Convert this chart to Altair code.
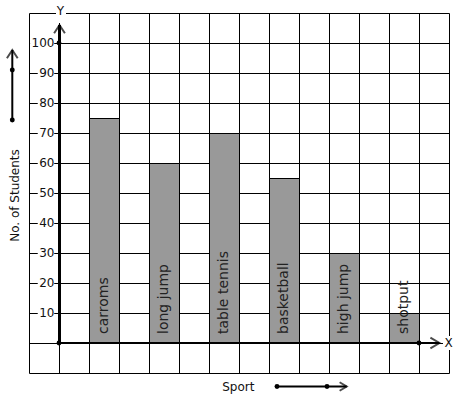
import altair as alt
import pandas as pd

# ---- data ----
sports = ["carroms", "long jump", "table tennis", "basketball", "high jump", "shotput"]
students = [75, 60, 70, 55, 30, 10]
y_tick_values = [10, 20, 30, 40, 50, 60, 70, 80, 90, 100]
x_grid = list(range(-1, 14))
y_grid = list(range(-10, 111, 10))
x_title = "Sport"
y_title = "No. of Students"

bars_df = pd.DataFrame({"sport": sports, "students": students})
ticks_df = pd.DataFrame({"v": y_tick_values})
one = pd.DataFrame({"k": [0]})

FONT = "DejaVu Sans"
XS = alt.Scale(domain=[-1, 13], nice=False, zero=False)
YS = alt.Scale(domain=[-10, 110], nice=False, zero=False)
UP = "M-0.65,1L0,0L0.65,1"
RIGHT = "M-1,-0.6L0,0L-1,0.6"

grid_axis = dict(grid=True, labels=False, ticks=False, domain=False, title=None,
                 gridColor="black", gridOpacity=1, gridWidth=1)
AX = alt.Axis(values=x_grid, **grid_axis)
AY = alt.Axis(values=y_grid, **grid_axis)


def X(f):
    return alt.X(f, scale=XS, axis=AX)


def Y(f):
    return alt.Y(f, scale=YS, axis=AY)


def XD(v):
    return alt.XDatum(v, scale=XS, axis=AX)


def YD(v):
    return alt.YDatum(v, scale=YS, axis=AY)


base = alt.Chart(bars_df).transform_window(idx="row_number()").transform_calculate(
    x0="2*datum.idx-1", x1="2*datum.idx", xc="2*datum.idx-0.5")

bars = base.mark_bar(fill="#999999", stroke="black", strokeWidth=1,
                     xOffset=0.5, x2Offset=0.5, yOffset=0.5, y2Offset=0.5).encode(
    x=X("x0:Q"), x2="x1:Q", y=Y("students:Q"), y2=alt.datum(0))

bar_labels = base.mark_text(angle=270, align="left", baseline="middle", dx=9,
                            fontSize=14, font=FONT, color="#222").encode(
    x=X("xc:Q"), y=YD(0), text="sport:N")

tick_bg = alt.Chart(ticks_df).transform_calculate(
    rx2="-0.16", rx1="-0.16 - length(toString(datum.v))*7.63/30 - 0.04",
    ry1="datum.v - 2", ry2="datum.v + 2").mark_rect(fill="white").encode(
    x=X("rx1:Q"), x2="rx2:Q", y=Y("ry1:Q"), y2="ry2:Q")

tick_text = alt.Chart(ticks_df).mark_text(align="right", baseline="middle", dx=-4.5,
                                          fontSize=12, font=FONT, color="#111").encode(
    x=XD(0), y=Y("v:Q"), text="v:Q")

oc = alt.Chart(one)

y_axis_line = oc.mark_rule(color="black", strokeWidth=3, xOffset=0.5).encode(
    x=XD(0), y=YD(0), y2=alt.datum(106))
x_axis_line = oc.mark_rule(color="black", strokeWidth=2).encode(
    x=XD(0), x2=alt.datum(12.68), y=YD(0))
y_chev = oc.mark_point(shape=UP, size=275, filled=False, color="black", strokeWidth=2,
                       xOffset=0.5).encode(x=XD(0), y=YD(106))
x_chev = oc.mark_point(shape=RIGHT, size=324, filled=False, color="black",
                       strokeWidth=2).encode(x=XD(12.68), y=YD(0))
dot_a = oc.mark_circle(size=24, color="black", opacity=1).encode(x=XD(0), y=YD(0))
dot_b = oc.mark_circle(size=24, color="black", opacity=1).encode(x=XD(0), y=YD(100))
dot_c = oc.mark_circle(size=24, color="black", opacity=1).encode(x=XD(12), y=YD(0))

# axis letters with white background
y_bg = oc.mark_rect(fill="white").encode(x=alt.value(27), x2=alt.value(37),
                                         y=alt.value(-10), y2=alt.value(10))
y_letter = oc.mark_text(text="Y", fontSize=12, font=FONT, align="center",
                        baseline="alphabetic", color="#111").encode(
    x=alt.value(31.5), y=alt.value(2))
x_bg = oc.mark_rect(fill="white").encode(x=alt.value(414), x2=alt.value(426),
                                         y=alt.value(323), y2=alt.value(337))
x_letter = oc.mark_text(text="X", fontSize=12, font=FONT, align="center",
                        baseline="middle", color="#111").encode(
    x=alt.value(419.5), y=alt.value(330))

# left legend arrow (vertical)
l_line = oc.mark_rule(color="black", strokeWidth=2).encode(
    x=alt.value(-16.7), y=alt.value(107), y2=alt.value(37))
l_chev = oc.mark_point(shape=UP, size=275, filled=False, color="black", strokeWidth=2).encode(
    x=alt.value(-16.7), y=alt.value(37))
l_dot1 = oc.mark_circle(size=24, color="black", opacity=1).encode(x=alt.value(-16.7), y=alt.value(57))
l_dot2 = oc.mark_circle(size=24, color="black", opacity=1).encode(x=alt.value(-16.7), y=alt.value(107))
y_title_text = oc.mark_text(text=y_title, angle=270, fontSize=12, font=FONT, align="center",
                            baseline="middle", color="#111").encode(
    x=alt.value(-13.6), y=alt.value(182.5))

# bottom legend arrow (horizontal)
b_line = oc.mark_rule(color="black", strokeWidth=2).encode(
    x=alt.value(248), x2=alt.value(317.7), y=alt.value(373.5))
b_chev = oc.mark_point(shape=RIGHT, size=200, filled=False, color="black", strokeWidth=2).encode(
    x=alt.value(317.7), y=alt.value(373.5))
b_dot1 = oc.mark_circle(size=24, color="black", opacity=1).encode(x=alt.value(248), y=alt.value(373.5))
b_dot2 = oc.mark_circle(size=24, color="black", opacity=1).encode(x=alt.value(298), y=alt.value(373.5))
x_title_text = oc.mark_text(text=x_title, fontSize=12, font=FONT, align="center",
                            baseline="alphabetic", color="#111").encode(
    x=alt.value(209.3), y=alt.value(377.5))

chart = alt.layer(
    bars, tick_bg, tick_text, y_axis_line, x_axis_line, y_chev, x_chev,
    dot_a, dot_b, dot_c, bar_labels, y_bg, y_letter, x_bg, x_letter,
    l_line, l_chev, l_dot1, l_dot2, y_title_text,
    b_line, b_chev, b_dot1, b_dot2, x_title_text,
).properties(
    width=420, height=360,
    padding={"left": 29, "top": 13, "right": 8, "bottom": 26},
    autosize=alt.AutoSizeParams(type="none"),
    background="white",
).configure_view(strokeWidth=0)

chart.save("out.html", embed_options={"renderer": "svg", "actions": False})
